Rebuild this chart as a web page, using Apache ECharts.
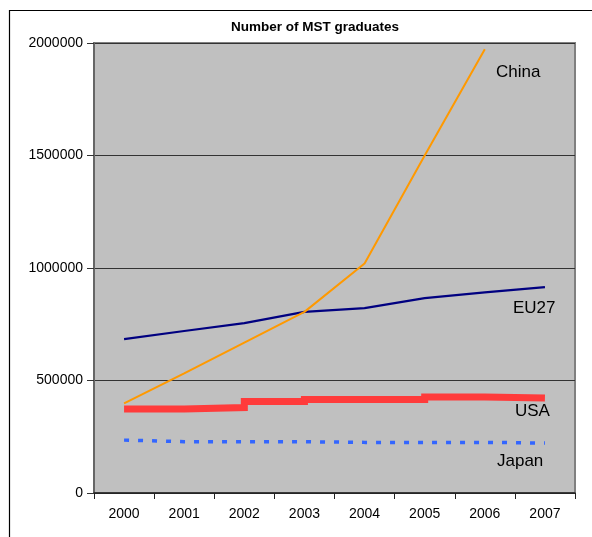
<!DOCTYPE html>
<html>
<head>
<meta charset="utf-8">
<script src="https://cdn.jsdelivr.net/npm/echarts@6/dist/echarts.min.js"></script>
<style>
  html, body { margin: 0; padding: 0; background: #fff; }
  #main { width: 592px; height: 537px; }
</style>
</head>
<body>
<div id="main"></div>
<script>
// years on the x axis
var years = ['2000', '2001', '2002', '2003', '2004', '2005', '2006', '2007'];

// graduates per year
var china = [398000, 532000, 668000, 805000, 1020000, 1500000, 1972000, null];
var eu27 = [684000, 720000, 755000, 805000, 822000, 866000, 892000, 915000];
var usa = [373000, 380000, 407000, 416000, 416000, 427000, 422000, 422000];
var japan = [235000, 228000, 228000, 228000, 225000, 225000, 225000, 222000];

var chart = echarts.init(document.getElementById('main'), null, { renderer: 'canvas' });

var font = 'Arial, "Liberation Sans", sans-serif';

var option = {
  animation: false,
  backgroundColor: '#fff',
  title: {
    text: 'Number of MST graduates',
    left: 310,
    top: 15,
    textAlign: 'center',
    textStyle: { fontFamily: font, fontSize: 13.5, fontWeight: 'bold', color: '#000' }
  },
  grid: {
    left: 94, right: 17, top: 43, bottom: 44,
    show: true,
    backgroundColor: '#c0c0c0',
    borderColor: '#808080',
    borderWidth: 2
  },
  xAxis: {
    type: 'category',
    data: years,
    boundaryGap: true,
    axisLine: { lineStyle: { color: '#222', width: 1.5 } },
    axisTick: { show: true, length: 6, lineStyle: { color: '#222' } },
    axisLabel: { color: '#000', fontFamily: font, fontSize: 14, margin: 14 }
  },
  yAxis: {
    type: 'value',
    min: 0,
    max: 2000000,
    interval: 500000,
    axisLine: { show: true, lineStyle: { color: '#666', width: 2 } },
    axisTick: { show: true, length: 7, lineStyle: { color: '#333' } },
    axisLabel: {
      color: '#000', fontFamily: font, fontSize: 14, margin: 11,
      formatter: function (v) { return String(v); }
    },
    splitLine: { lineStyle: { color: '#333', width: 1 } }
  },
  series: [
    {
      name: 'China', type: 'line', data: china,
      symbol: 'none', connectNulls: false,
      lineStyle: { color: '#ff9900', width: 2 },
      z: 4
    },
    {
      name: 'EU27', type: 'line', data: eu27,
      symbol: 'none',
      lineStyle: { color: '#000080', width: 2.2 },
      z: 3
    },
    {
      name: 'USA', type: 'line', data: usa,
      symbol: 'none', step: 'end',
      lineStyle: { color: '#ff3b3b', width: 7, cap: 'butt', join: 'miter' },
      z: 2
    },
    {
      name: 'Japan', type: 'line', data: japan,
      symbol: 'none',
      lineStyle: { color: '#3366ff', width: 3.5, type: [5, 9], cap: 'butt' },
      z: 2
    }
  ],
  graphic: [
    {
      type: 'rect', silent: true,
      shape: { x: 9.5, y: 10.5, width: 700, height: 700 },
      style: { fill: 'none', stroke: '#000', lineWidth: 1.2 }
    },
    { type: 'text', x: 496, y: 72, style: { text: 'China', font: '17px ' + font, fill: '#000', verticalAlign: 'middle' } },
    { type: 'text', x: 513, y: 308, style: { text: 'EU27', font: '17px ' + font, fill: '#000', verticalAlign: 'middle' } },
    { type: 'text', x: 515, y: 411, style: { text: 'USA', font: '17px ' + font, fill: '#000', verticalAlign: 'middle' } },
    { type: 'text', x: 497, y: 461, style: { text: 'Japan', font: '17px ' + font, fill: '#000', verticalAlign: 'middle' } }
  ]
};

chart.setOption(option);
</script>
</body>
</html>
